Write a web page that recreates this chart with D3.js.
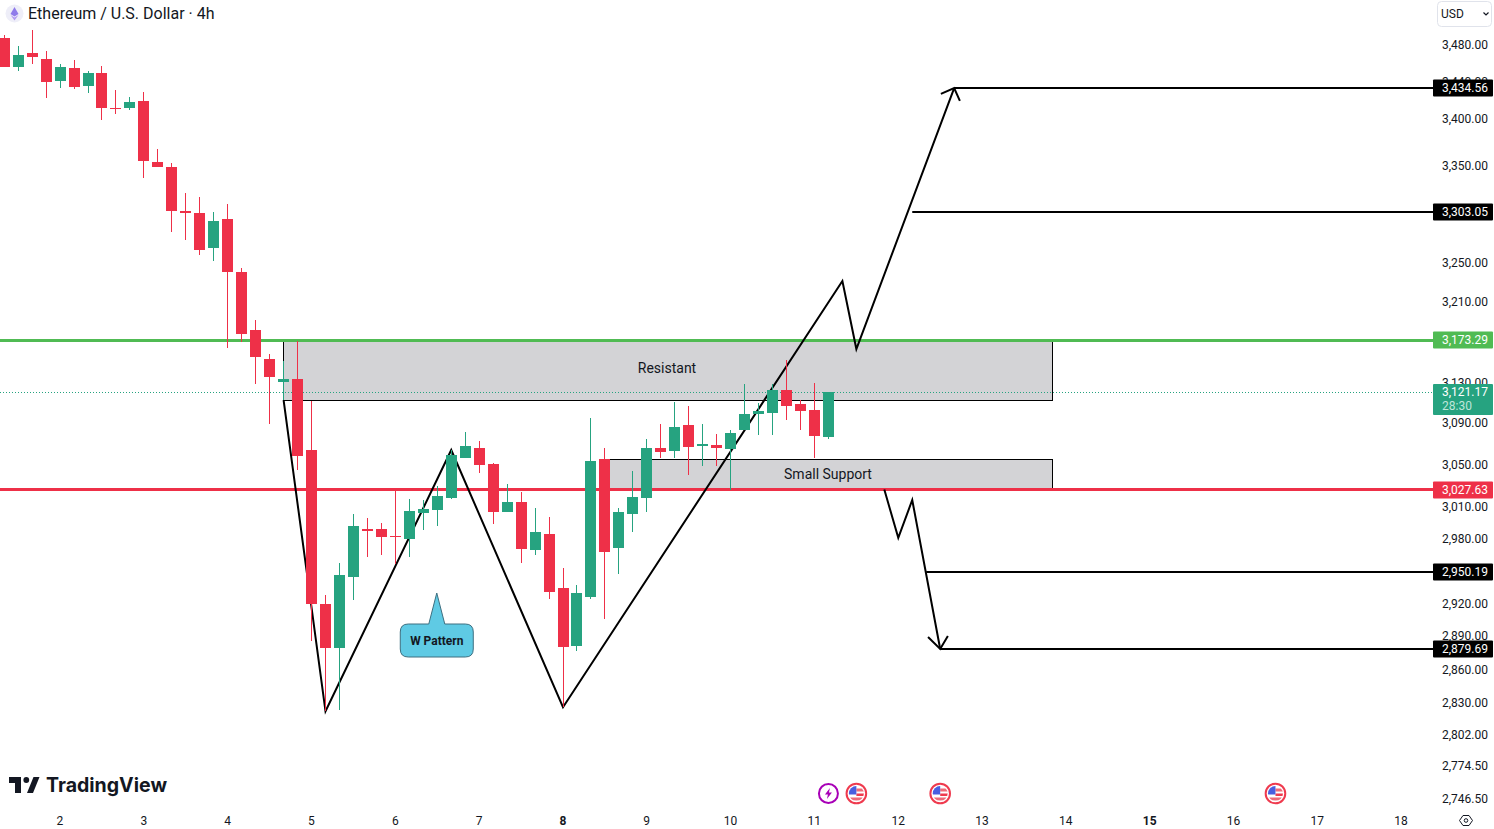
<!DOCTYPE html>
<html>
<head>
<meta charset="utf-8">
<title>ETH / USD 4h</title>
<script src="https://cdn.jsdelivr.net/npm/d3@7"></script>
<style>
  html, body { margin: 0; padding: 0; background: #fff; overflow: hidden; }
  svg { display: block; }
  text { font-family: Roboto, sans-serif; fill: #131722; }
</style>
</head>
<body>
<svg id="chart" width="1494" height="829"></svg>
<script>
// candles, 4h apart, oldest first
const startTime = Date.UTC(2024, 6, 1, 8);
const opens = [3489.2,3456.7,3473,3466.4,3441.6,3455.6,3436.4,3450.2,3412.5,3412.5,3421,3356,3349.8,3304.6,3302.6,3266.3,3296.3,3242,3183,3154,3131,3134,3065.5,2920.6,2880.6,2945.5,2990.4,2990.4,2983.9,2981,3005.4,3008.2,3019.6,3057.7,3067.4,3051.9,3006.3,3015.8,2970.6,2985.7,2935.4,2882.4,2927.1,3056.7,2972.5,3004.4,3019.6,3067.4,3064.5,3089,3069.4,3070.4,3066.5,3085,3099.8,3100.8,3124,3110,3103.8,3078.1];
const highs = [3492.5,3480.5,3498,3475,3461,3464.3,3452.4,3457.8,3432,3425,3430,3369.6,3355,3323.3,3319,3303.6,3312,3246,3193,3159,3152,3172,3113,2929,2958.5,3004.4,3000.7,2996,3027.2,3018.7,3017.7,3031,3065.5,3083,3074.2,3052.8,3032.9,3025.3,3010.1,3001.6,2953.8,2938.2,3096.4,3067.4,3010.1,3045,3076.2,3090,3112,3108,3090,3081,3085,3129,3111,3129,3153,3114,3130,3121.17];
const lows = [3456.7,3452.4,3461,3424,3434.2,3433,3429,3400,3407,3410.4,3339,3349.8,3283,3274.6,3259,3253,3165,3171,3129,3090,3114,3046,2886.9,2823.9,2824.8,2924.3,2964,2965.9,2957.6,2964,2989.4,2993.2,3018.7,3057.7,3043.2,2995.1,3006.3,2958.5,2965.9,2925.2,2827.5,2877.8,2925.2,2906.8,2948.3,2987.6,3006.3,3057.7,3057.7,3041.3,3049.9,3049.9,3027.2,3085,3080,3080,3094,3085,3057.7,3076.2];
const closes = [3456.7,3470.8,3468.6,3440.6,3456.7,3435.3,3450.2,3412.5,3411.5,3419,3357,3349.8,3304.6,3302.6,3264.3,3294,3242,3179,3156,3136,3134,3059.6,2920.6,2880.6,2947.4,2993.2,2988.5,2982.9,2982.9,3007.3,3009.2,3021.5,3060.6,3069.4,3050.9,3006.3,3015.8,2971.5,2987.6,2931.7,2881.5,2930.8,3054.8,2968.7,3006.3,3020.6,3067.4,3063.5,3087,3068.4,3071.3,3067.4,3082,3099.8,3102.8,3124,3108,3102.8,3079.1,3121.17];

// price axis labels
const priceTicks = [3480,3440,3400,3350,3250,3210,3130,3090,3050,3010,2980,2920,2890,2860,2830,2802,2774.5,2746.5];
const dayTicks = [2,3,4,5,6,7,8,9,10,11,12,13,14,15,16,17,18];
const boldDays = [8,15];

// drawn levels
const resistancePrice = 3173.29;
const supportPrice = 3027.63;
const lastPrice = 3121.17;
const countdown = "28:30";
const resistantZone = [20, 75.05, 3173.29, 3114];
const supportZone = [43, 75.05, 3056.5, 3027.63];
const targetStarts = [68, 65, 66, 67];
const targetPrices = [3434.56, 3303.05, 2950.19, 2879.69];

// the W and the projected paths, in candle index / price
const wIdx = [20,23,32,40,60,61,68];
const wPrice = [3114,2823.9,3065.5,2827.5,3232.7,3164.3,3434.56];
const upArrowIdx = [67.05,68,68.41];
const upArrowPrice = [3428.4,3434.56,3420.8];
const downIdx = [63,64,65,67];
const downPrice = [3027.63,2982,3017.7,2879.69];
const downArrowIdx = [66.13,67,67.55];
const downArrowPrice = [2890.5,2879.69,2891.4];

// calendar markers under the chart
const boltEvents = [59];
const flagEvents = [61,67,91];

const GREEN = "#26a380", RED = "#ee3048", LEVEL_GREEN = "#50bb53", INK = "#131722";
const axisX = 1433;

const svg = d3.select("#chart");

const timeOf = i => new Date(startTime + i * 4 * 3600 * 1000);
const xScale = d3.scaleUtc()
  .domain([new Date(Date.UTC(2024, 6, 2)), new Date(Date.UTC(2024, 6, 18))])
  .range([60.08, 1401.2]);
const yScale = d3.scaleLog()
  .domain([3173.29, 2879.69])
  .range([340, 649]);
const xi = i => xScale(timeOf(i));
const snapY = p => Math.round(yScale(p) - 0.25);

// zones
function drawZone(z) {
  const left = Math.floor(xi(z[0])), right = Math.floor(xi(z[1]));
  svg.append("rect")
    .attr("x", left + 0.5)
    .attr("y", Math.round(yScale(z[2])) + 0.5)
    .attr("width", right - left)
    .attr("height", Math.round(yScale(z[3])) - Math.round(yScale(z[2])))
    .attr("fill", "#d3d3d6")
    .attr("stroke", "#000")
    .attr("stroke-width", 1);
}
drawZone(resistantZone);
drawZone(supportZone);

svg.append("text").attr("x", 667).attr("y", yScale(3140.5)).attr("text-anchor", "middle")
  .attr("font-size", 14).text("Resistant");
svg.append("text").attr("x", 828).attr("y", yScale(3037.7)).attr("text-anchor", "middle")
  .attr("font-size", 14).text("Small Support");

// last price dotted line
svg.append("line")
  .attr("x1", 0).attr("x2", axisX)
  .attr("y1", snapY(lastPrice) + 0.5).attr("y2", snapY(lastPrice) + 0.5)
  .attr("stroke", GREEN).attr("stroke-width", 1).attr("stroke-dasharray", "1 2");

// horizontal levels
svg.append("line").attr("x1", 0).attr("x2", axisX)
  .attr("y1", Math.floor(yScale(resistancePrice)) + 0.5).attr("y2", Math.floor(yScale(resistancePrice)) + 0.5)
  .attr("stroke", LEVEL_GREEN).attr("stroke-width", 3);
svg.append("line").attr("x1", 0).attr("x2", axisX)
  .attr("y1", Math.floor(yScale(supportPrice)) + 0.5).attr("y2", Math.floor(yScale(supportPrice)) + 0.5)
  .attr("stroke", RED).attr("stroke-width", 3);

targetPrices.forEach((p, i) => {
  svg.append("line")
    .attr("x1", xi(targetStarts[i])).attr("x2", axisX)
    .attr("y1", Math.round(yScale(p))).attr("y2", Math.round(yScale(p)))
    .attr("stroke", "#000").attr("stroke-width", 2);
});

// pattern lines
const pathLine = d3.line().x(d => xi(d[0])).y(d => yScale(d[1]));
function drawPath(idx, prices) {
  svg.append("path")
    .attr("d", pathLine(idx.map((v, i) => [v, prices[i]])))
    .attr("fill", "none")
    .attr("stroke", "#000")
    .attr("stroke-width", 2);
}
drawPath(wIdx, wPrice);
drawPath(upArrowIdx, upArrowPrice);
drawPath(downIdx, downPrice);
drawPath(downArrowIdx, downArrowPrice);

// candles
const candles = svg.append("g").attr("shape-rendering", "crispEdges");
opens.forEach((o, i) => {
  const cx = Math.floor(xi(i));
  const color = closes[i] >= o ? GREEN : RED;
  const top = snapY(Math.max(o, closes[i]));
  const bottom = snapY(Math.min(o, closes[i]));
  candles.append("rect")
    .attr("x", cx).attr("width", 1)
    .attr("y", snapY(highs[i])).attr("height", snapY(lows[i]) - snapY(highs[i]))
    .attr("fill", color);
  candles.append("rect")
    .attr("x", cx - 5).attr("width", 11)
    .attr("y", top).attr("height", Math.max(bottom - top, 1))
    .attr("fill", color);
});

// W Pattern callout
const callout = svg.append("g").attr("transform", `translate(${xi(31)},${yScale(2930.8)})`);
callout.append("path")
  .attr("d", "M-0.5,0 L7.5,31 H28 Q36,31 36,39 V56 Q36,64 28,64 H-29 Q-37,64 -37,56 V39 Q-37,31 -29,31 H-8.5 Z")
  .attr("fill", "#5fcae4")
  .attr("stroke", "#3e6f80")
  .attr("stroke-width", 1);
callout.append("text").attr("x", -0.5).attr("y", 52).attr("text-anchor", "middle")
  .attr("font-size", 12).attr("font-weight", 700).attr("fill", "#000").text("W Pattern");

// price axis
const yAxis = svg.append("g")
  .attr("transform", `translate(${axisX},0)`)
  .call(d3.axisRight(yScale)
    .tickValues(priceTicks)
    .tickSize(0)
    .tickPadding(9)
    .tickFormat(d3.format(",.2f")));
yAxis.select(".domain").remove();
yAxis.selectAll("text").attr("y", -1.5)
  .style("font-family", "Roboto, sans-serif").style("font-size", "12px").attr("fill", INK);

// time axis
const xAxis = svg.append("g")
  .attr("transform", "translate(0,816)")
  .call(d3.axisBottom(xScale)
    .tickValues(dayTicks.map(d => new Date(Date.UTC(2024, 6, d))))
    .tickSize(0)
    .tickPadding(0)
    .tickFormat(d => d.getUTCDate()));
xAxis.select(".domain").remove();
xAxis.selectAll("text")
  .attr("x", -0.6)
  .style("font-family", "Roboto, sans-serif")
  .style("font-size", "12px")
  .style("font-weight", d => boldDays.includes(d.getUTCDate()) ? 700 : 400)
  .attr("fill", INK);

// price tags
function priceTag(value, color) {
  const y = Math.round(yScale(value));
  svg.append("rect").attr("x", axisX).attr("y", y - 8.5).attr("width", 60).attr("height", 17)
    .attr("rx", 1).attr("fill", color);
  svg.append("text").attr("x", 1442).attr("y", y + 4.3)
    .attr("font-size", 12).style("fill", "#fff").text(d3.format(",.2f")(value));
}
targetPrices.forEach(p => priceTag(p, "#000"));
priceTag(resistancePrice, LEVEL_GREEN);
priceTag(supportPrice, RED);

const lastY = snapY(lastPrice);
svg.append("rect").attr("x", axisX).attr("y", lastY - 8).attr("width", 60).attr("height", 31)
  .attr("rx", 1).attr("fill", GREEN);
svg.append("text").attr("x", 1442).attr("y", lastY + 4.3)
  .attr("font-size", 12).style("fill", "#fff").text(d3.format(",.2f")(lastPrice));
svg.append("text").attr("x", 1442).attr("y", lastY + 18)
  .attr("font-size", 12).style("fill", "#bfe6da").text(countdown);

// title
const titleIcon = svg.append("g").attr("transform", "translate(14.5,13.5)");
titleIcon.append("circle").attr("r", 9).attr("fill", "#eeeef8");
titleIcon.append("path").attr("d", "M0,-6.5 L4,0.5 L0,3 L-4,0.5 Z").attr("fill", "#8f7bea");
titleIcon.append("path").attr("d", "M-4,1.5 L0,4 L4,1.5 L0,7 Z").attr("fill", "#b49cf2");
svg.append("text").attr("x", 28).attr("y", 19).attr("font-size", 16).text("Ethereum / U.S. Dollar · 4h");

// currency button
svg.append("rect").attr("x", 1437.5).attr("y", 1.5).attr("width", 54).attr("height", 25).attr("rx", 4)
  .attr("fill", "#fff").attr("stroke", "#e0e3eb");
svg.append("text").attr("x", 1441).attr("y", 18).attr("font-size", 12).text("USD");
svg.append("path").attr("d", "M1483.5,12.5 L1486,15 L1488.5,12.5").attr("fill", "none")
  .attr("stroke", INK).attr("stroke-width", 1.2);

// logo
svg.append("path").attr("fill", INK)
  .attr("d", "M9,777 H21 V793 H15 V783 H9 Z M33.5,777 H39.5 L33,793 H27 Z");
svg.append("circle").attr("cx", 26.3).attr("cy", 780).attr("r", 2.9).attr("fill", INK);
svg.append("text").attr("x", 46).attr("y", 792).attr("font-size", 20).attr("font-weight", 700)
  .attr("textLength", 121).attr("lengthAdjust", "spacingAndGlyphs")
  .style("font-family", "Inter, sans-serif").text("TradingView");

// event markers
boltEvents.forEach(i => {
  const g = svg.append("g").attr("transform", `translate(${xi(i)},793.5)`);
  g.append("circle").attr("r", 9.5).attr("fill", "#fff").attr("stroke", "#a800b7").attr("stroke-width", 2);
  g.append("path").attr("d", "M1.5,-5.5 L-3.5,1 H-0.5 L-1.5,5.5 L3.5,-1 H0.5 Z").attr("fill", "#a800b7");
});
const defs = svg.append("defs");
defs.append("clipPath").attr("id", "flagClip").append("circle").attr("r", 7.5);
flagEvents.forEach(i => {
  const g = svg.append("g").attr("transform", `translate(${xi(i)},793.5)`);
  g.append("circle").attr("r", 9.8).attr("fill", "#fff").attr("stroke", "#ef3a4e").attr("stroke-width", 2);
  const flag = g.append("g").attr("clip-path", "url(#flagClip)");
  flag.append("rect").attr("x", -8).attr("y", -8).attr("width", 16).attr("height", 16).attr("fill", "#fff");
  flag.append("rect").attr("x", 0).attr("y", -5).attr("width", 8).attr("height", 3).attr("fill", "#ef6a78");
  flag.append("rect").attr("x", 0).attr("y", 0).attr("width", 8).attr("height", 2.5).attr("fill", "#ef3a4e");
  flag.append("rect").attr("x", -8).attr("y", 4).attr("width", 16).attr("height", 3).attr("fill", "#ef6a78");
  flag.append("rect").attr("x", -8).attr("y", -8).attr("width", 8).attr("height", 9).attr("fill", "#4a5ee0");
});

// settings icon at the corner of the axes
const gear = svg.append("g").attr("transform", "translate(1466,820.5)").attr("fill", "none").attr("stroke", INK);
gear.append("path").attr("d", "M-3,-5 H3 L6.5,0 L3,5 H-3 L-6.5,0 Z");
gear.append("circle").attr("r", 1.8);
</script>
</body>
</html>
